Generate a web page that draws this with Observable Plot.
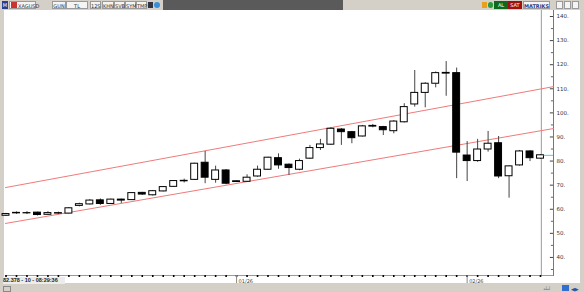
<!DOCTYPE html>
<html><head><meta charset="utf-8">
<script src="https://cdn.jsdelivr.net/npm/d3@7"></script>
<script src="https://cdn.jsdelivr.net/npm/@observablehq/plot@0.6"></script>
<style>
body{margin:0;background:#fff;font-family:"DejaVu Sans",sans-serif;}
#win{position:relative;width:584px;height:292px;overflow:hidden;background:#d4d0c8;}
#paper{position:absolute;left:4px;top:10px;width:576px;height:273px;background:#fff;}
#chart{position:absolute;left:0;top:0;}
.tb{position:absolute;top:1px;height:8px;font-size:5px;line-height:8px;color:#333;text-align:center;box-sizing:border-box;white-space:nowrap;}
.box{background:#f4f4f4;border:1px solid #9a9a9a;}
</style></head><body>
<div id="win">
  <div id="paper"></div>
  <div id="chart"></div>
  <!-- top toolbar -->
  <div class="tb" style="left:2px;width:6px;background:#2a3f8f;color:#fff;font-size:5px;">M</div>
  <div class="tb box" style="left:9px;width:27px;text-align:left;padding-left:8px;color:#334;">XAGUSD</div>
  <div class="tb" style="left:11px;width:6px;top:2px;height:6px;background:#c33;"></div>
  <div class="tb box" style="left:52px;width:14px;">GUN</div>
  <div class="tb box" style="left:66px;width:22px;">TL</div>
  <div class="tb box" style="left:90px;width:11px;">12S</div>
  <div class="tb box" style="left:102px;width:12px;">KHN</div>
  <div class="tb box" style="left:114px;width:11px;">SVB</div>
  <div class="tb box" style="left:125px;width:11px;">SYM</div>
  <div class="tb box" style="left:136px;width:11px;">TMP</div>
  <div class="tb" style="left:148px;width:5px;top:2px;height:6px;background:#334;"></div>
  <div class="tb" style="left:154px;width:6px;top:2px;height:6px;background:#3a8fd8;border-radius:3px;"></div>
  <div class="tb" style="left:163px;width:180px;top:0;height:10px;background:#5a5a5a;"></div>
  <div class="tb" style="left:482px;width:5px;top:2px;height:6px;background:#e8a020;"></div>
  <div class="tb" style="left:488px;width:5px;top:2px;height:6px;background:#2a9a3a;border-radius:3px;"></div>
  <div class="tb" style="left:494px;width:14px;background:#0e6a1e;color:#fff;">AL</div>
  <div class="tb" style="left:508px;width:14px;background:#a01010;color:#fff;">SAT</div>
  <div class="tb box" style="left:523px;width:27px;color:#223a8a;font-weight:bold;">MATRIKS</div>
  <div class="tb box" style="left:556px;width:7px;"></div>
  <div class="tb box" style="left:564px;width:7px;"></div>
  <div class="tb box" style="left:572px;width:7px;"></div>
  <!-- bottom info -->
  <div style="position:absolute;left:3px;top:277px;width:62px;height:7px;background:#ececec;font-family:'Liberation Sans',sans-serif;font-size:5.5px;line-height:7px;font-weight:bold;color:#222;white-space:nowrap;overflow:hidden;">82.378 - 10 - 08:29:36</div>
  <div style="position:absolute;left:3px;top:286px;width:6px;height:4px;border:1px solid #888;"></div>
  <div style="position:absolute;left:543px;top:285px;font-size:5px;color:#777;">لبلد</div>
  <div style="position:absolute;left:562px;top:285px;width:7px;height:6px;background:#2f6fcf;"></div>
  <div style="position:absolute;left:571px;top:286px;font-size:5px;color:#2f4f9f;">◀▶</div>
</div>
<script>
// candle data (daily XAGUSD), index 0..51
const open  = [57.3,58.3,58.3,58.6,57.7,58.2,58.2,61.4,62.0,63.7,62.2,64.0,63.8,66.8,65.8,67.4,69.3,71.6,72.2,79.3,72.2,76.1,71.6,71.4,73.6,76.4,81.2,78.5,76.4,81.0,85.4,86.8,93.1,92.0,90.2,94.3,94.1,92.4,96.1,103.5,108.3,112.1,116.3,116.5,82.3,80.0,84.8,87.4,73.7,78.2,84.0,81.0];
const high  = [58.3,58.9,59.0,58.8,59.0,58.8,60.7,62.5,64.0,64.3,64.2,64.2,66.9,67.0,67.8,69.4,71.9,72.5,79.1,84.0,77.9,76.5,71.8,74.3,77.9,81.6,83.0,78.8,80.8,86.5,89.0,93.8,93.5,92.3,94.8,95.2,94.4,96.8,103.8,117.6,112.5,117.0,121.3,118.6,88.1,89.0,92.3,90.2,78.0,84.4,84.3,82.6];
const low   = [57.0,57.9,57.8,57.2,57.4,57.8,58.0,61.0,61.8,61.6,62.0,62.4,63.6,65.8,65.5,67.2,69.1,70.9,72.0,70.6,70.8,70.2,71.1,71.2,73.3,76.2,76.6,74.0,76.0,80.7,84.4,86.5,86.5,87.2,90.0,93.8,90.6,91.3,95.8,102.4,102.1,110.4,106.9,72.7,71.5,79.5,83.7,72.7,64.6,77.9,79.8,80.8];
const close = [58.0,58.5,58.4,57.6,58.4,58.4,60.4,62.1,63.6,62.2,64.0,63.6,66.7,66.1,67.5,69.2,71.7,71.8,78.9,73.1,76.1,70.6,71.3,73.1,76.4,81.4,78.2,77.1,80.0,85.4,86.9,93.4,92.0,89.5,94.4,94.6,92.8,96.4,102.4,108.3,112.1,116.5,116.6,83.5,80.0,84.8,87.2,73.6,77.8,84.0,81.2,82.4];
// channel (trend) lines
const channelX = [-0.05, 52.24];
const upperY   = [69.0, 110.9];
const lowerY   = [54.1, 93.5];
// axis labels
const yTicks = [40,50,60,70,80,90,100,110,120,130,140];
const yMinor = [35,45,55,65,75,85,95,105,115,125,135];
const monthLabels = ["01/26","02/26"];
const monthIdx    = [22, 44];
const lastPrice = 82.378;

const candles = open.map((o,i)=>({i, o, h:high[i], l:low[i], c:close[i], up: close[i] >= o}));
const upper = channelX.map((x,k)=>({x, y:upperY[k]}));
const lower = channelX.map((x,k)=>({x, y:lowerY[k]}));
const lastI = candles.length - 1;
const xMax = channelX[1];
const bw = 0.33;

const chart = Plot.plot({
  width: 584, height: 292,
  marginTop: 10, marginBottom: 17, marginLeft: 5, marginRight: 31,
  style: {background: "transparent", fontFamily: "DejaVu Sans, sans-serif"},
  x: {type: "linear", domain: [channelX[0], xMax], axis: null},
  y: {domain: [32.5, 142.5], axis: null},
  marks: [
    Plot.frame({anchor: "bottom", stroke: "#9a9a9a"}),
    Plot.frame({anchor: "right", stroke: "#777"}),
    Plot.ruleX([lastI + 0.08], {y1: 32.5, y2: 142.5, stroke: "#9a9a9a", strokeWidth: 1}),
    Plot.line(upper, {x: "x", y: "y", stroke: "#f07a7a", strokeWidth: 1}),
    Plot.line(lower, {x: "x", y: "y", stroke: "#f07a7a", strokeWidth: 1}),
    Plot.ruleX(candles, {x: "i", y1: "l", y2: "h", stroke: "#444", strokeWidth: 1}),
    Plot.rect(candles, {x1: d => d.i - bw, x2: d => d.i + bw, y1: "o", y2: "c",
      fill: d => d.up ? "#fff" : "#000", stroke: "#000", strokeWidth: 1, inset: 0}),
    Plot.ruleY([lastPrice], {x1: lastI + 0.35, x2: xMax, stroke: "#5cc8d8", strokeWidth: 1}),
    // y axis ticks (inside, left of axis line)
    Plot.ruleY(yTicks, {y: d => d, x1: xMax - 0.3, x2: xMax, stroke: "#444"}),
    Plot.ruleY(yMinor, {y: d => d, x1: xMax - 0.2, x2: xMax, stroke: "#666"}),
    Plot.axisY({anchor: "right", ticks: yTicks, tickSize: 0, tickPadding: 3, fontSize: 5.5,
      tickFormat: d => d + ".", fill: "#333"}),
    // x axis candle dots
    Plot.axisX({ticks: candles.map(d => d.i), tickSize: 2, strokeWidth: 1.6, stroke: "#000", tickFormat: () => ""}),
    // month separators
    Plot.axisX({ticks: monthIdx, tickSize: 8, stroke: "#888", tickFormat: () => ""}),
    Plot.text(monthIdx, {x: d => d, y: 30.0, text: (d, k) => monthLabels[k], textAnchor: "start",
      dx: 2, fontSize: 5, fill: "#444"})
  ]
});
document.getElementById("chart").appendChild(chart);
</script>
</body></html>
